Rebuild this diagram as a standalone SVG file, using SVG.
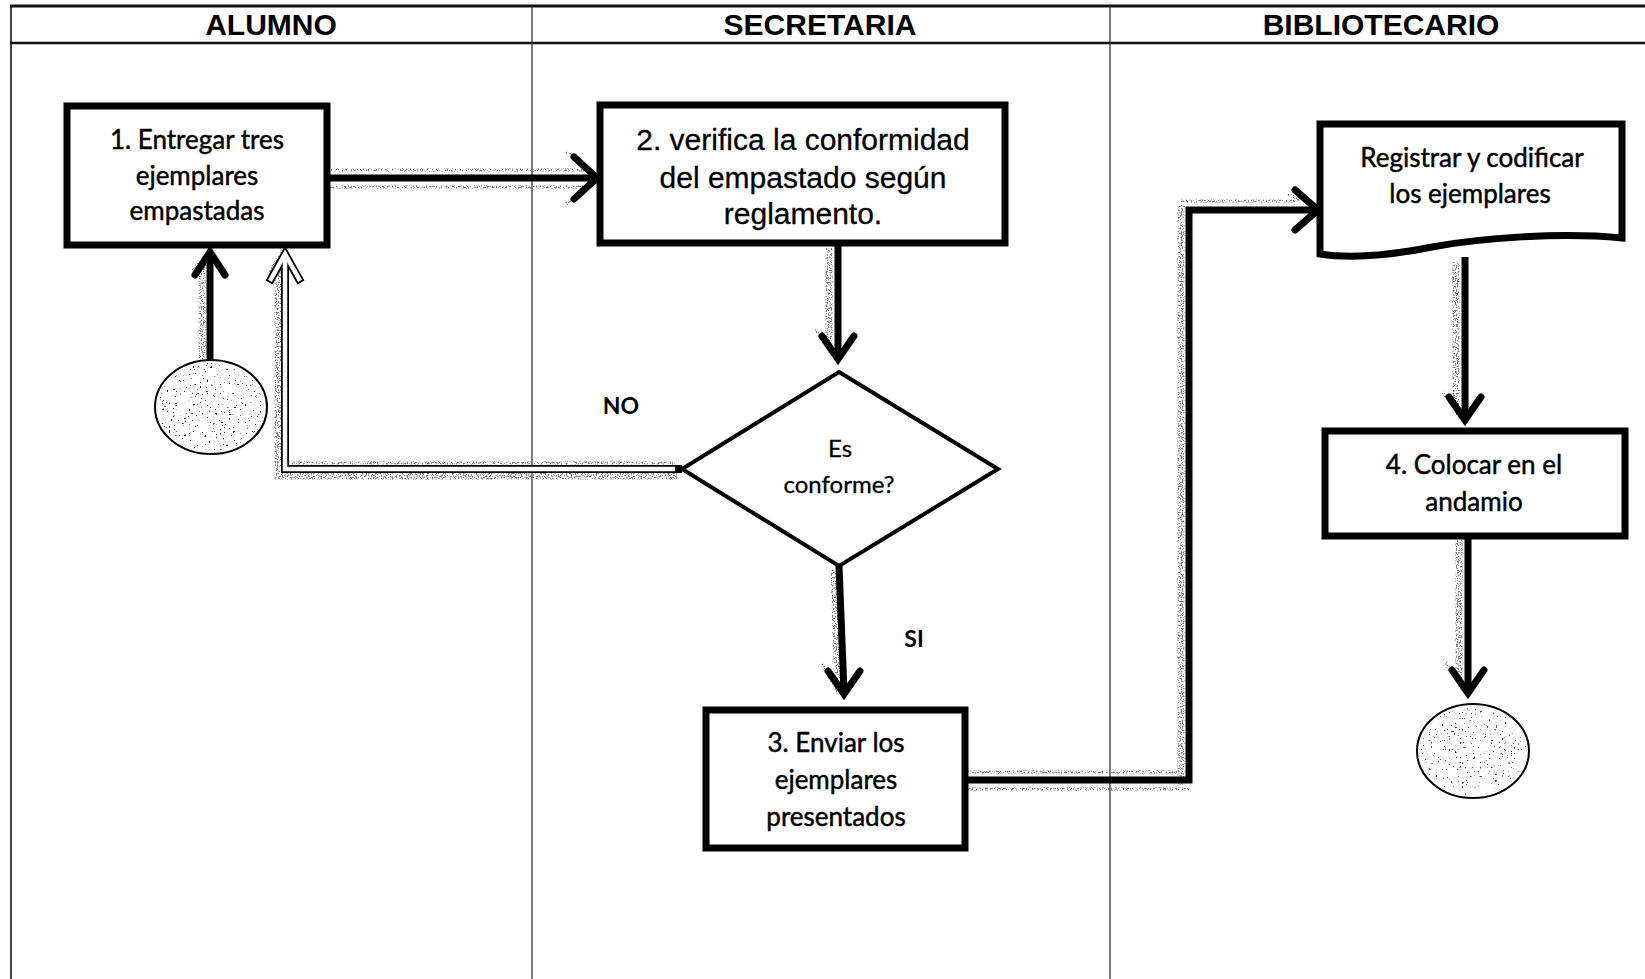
<svg xmlns="http://www.w3.org/2000/svg" width="1645" height="979" viewBox="0 0 1645 979">
  <style>
    .frame { stroke: #111; fill: none; }
    .lane { stroke: #333; stroke-width: 1.3; fill: none; }
    .hdr { font-family: "Liberation Sans", Arial, sans-serif; font-weight: bold; font-size: 30px; fill: #000; text-anchor: middle; }
    .box { fill: #fff; stroke: #000; stroke-width: 7; }
    .cal { font-family: Lato, Carlito, "Liberation Sans", sans-serif; font-size: 26px; fill: #000; stroke: #000; stroke-width: 0.45; text-anchor: middle; }
    .ari { font-family: "Liberation Sans", Arial, sans-serif; font-size: 30px; fill: #000; stroke: #000; stroke-width: 0.3; text-anchor: middle; }
    .lbl { font-family: Lato, Carlito, "Liberation Sans", sans-serif; font-weight: bold; font-size: 23px; fill: #000; text-anchor: middle; }
    .flow { fill: none; stroke: #000; stroke-width: 7; stroke-linejoin: miter; }
    .head { fill: none; stroke: #000; stroke-width: 7; stroke-linejoin: miter; stroke-linecap: round; }
    .shade { fill: none; stroke: #7a7a7a; stroke-width: 7; }
    .shade-thin { fill: none; stroke: #7a7a7a; stroke-width: 3; }
    .hollow-out { fill: none; stroke: #000; stroke-width: 8; stroke-linejoin: miter; }
    .hollow-in { fill: none; stroke: #fff; stroke-width: 4.5; stroke-linejoin: miter; }
  </style>
  <defs>
    <!-- speckled scan texture used for the arrow shadows and the terminator fills -->
    <filter id="grain" filterUnits="userSpaceOnUse" x="0" y="0" width="1645" height="979">
      <feTurbulence type="fractalNoise" baseFrequency="0.8" numOctaves="2" seed="4" result="noise"/>
      <feColorMatrix in="noise" type="matrix" values="0 0 0 0 0  0 0 0 0 0  0 0 0 0 0  0 0 0 8 -4.0" result="mask"/>
      <feComposite in="SourceGraphic" in2="mask" operator="in"/>
    </filter>
    <filter id="speck" filterUnits="userSpaceOnUse" x="0" y="0" width="1645" height="979">
      <feTurbulence type="fractalNoise" baseFrequency="0.45" numOctaves="2" seed="9" result="noise"/>
      <feColorMatrix in="noise" type="matrix" values="0 0 0 0 0  0 0 0 0 0  0 0 0 0 0  0 0 0 18 -12.4" result="mask"/>
      <feComposite in="SourceGraphic" in2="mask" operator="in"/>
    </filter>
  </defs>

  <rect width="1645" height="979" fill="#fff"/>

  <!-- swimlane frame -->
  <g id="lanes">
    <line class="frame" x1="10" y1="6" x2="1645" y2="6" stroke-width="3"/>
    <line class="frame" x1="10" y1="43" x2="1645" y2="43" stroke-width="2.5"/>
    <line class="frame" x1="11" y1="6" x2="11" y2="979" stroke-width="1.6"/>
    <line class="lane" x1="532" y1="6" x2="532" y2="979"/>
    <line class="lane" x1="1110" y1="6" x2="1110" y2="979"/>
    <text class="hdr" x="271" y="35">ALUMNO</text>
    <text class="hdr" x="820" y="35">SECRETARIA</text>
    <text class="hdr" x="1381" y="35">BIBLIOTECARIO</text>
  </g>

  <!-- connectors -->
  <g id="connectors">
    <g filter="url(#grain)">
      <line class="shade" x1="202" y1="262" x2="202" y2="360"/>
      <path class="shade-thin" d="M192,270 L207,254"/>
      <line class="shade-thin" x1="330" y1="170" x2="590" y2="170"/>
      <line class="shade-thin" x1="330" y1="187" x2="590" y2="187"/>
      <path class="shade-thin" d="M566,152 L576,158 M566,204 L576,198"/>
      <line class="shade" x1="829" y1="248" x2="829" y2="350"/>
      <path class="shade-thin" d="M815,328 L832,356"/>
      <line class="shade" x1="834" y1="570" x2="838" y2="690"/>
      <path class="shade-thin" d="M822,664 L838,692"/>
      <line class="shade-thin" x1="968" y1="772" x2="1180" y2="772"/>
      <line class="shade-thin" x1="968" y1="789" x2="1190" y2="789"/>
      <line class="shade" x1="1181" y1="205" x2="1181" y2="785"/>
      <line class="shade-thin" x1="1181" y1="201" x2="1295" y2="201"/>
      <path class="shade-thin" d="M1288,194 L1300,200"/>
      <line class="shade" x1="1456" y1="262" x2="1456" y2="410"/>
      <path class="shade-thin" d="M1443,392 L1460,418"/>
      <line class="shade" x1="1459" y1="540" x2="1459" y2="680"/>
      <path class="shade-thin" d="M1446,662 L1462,690"/>
      <path class="shade" d="M677,476 H278 V262" stroke-width="5"/>
      <path class="shade-thin" d="M677,463 H292"/>
      <path class="shade-thin" d="M268,276 L282,252"/>
    </g>

    <!-- start -> 1 -->
    <line class="flow" x1="210" y1="360" x2="210" y2="254"/>
    <path class="head" d="M195,275 L210,252 L225,275"/>
    <!-- 1 -> 2 -->
    <line class="flow" x1="327" y1="178" x2="596" y2="178"/>
    <path class="head" d="M574,157 L597,178 L574,199"/>
    <!-- 2 -> decision -->
    <line class="flow" x1="838" y1="243" x2="838" y2="357"/>
    <path class="head" d="M822,336 L838,359 L854,336"/>
    <!-- decision (SI) -> 3 -->
    <line class="flow" x1="839" y1="566" x2="844" y2="692"/>
    <path class="head" d="M828,671 L844,694 L860,671"/>
    <!-- 3 -> registrar -->
    <path class="flow" d="M965,780 H1189 V210 H1316"/>
    <path class="head" d="M1295,190 L1318,210 L1295,230"/>
    <!-- registrar -> 4 -->
    <line class="flow" x1="1465" y1="257" x2="1465" y2="418"/>
    <path class="head" d="M1449,397 L1465,420 L1481,397"/>
    <!-- 4 -> end -->
    <line class="flow" x1="1468" y1="536" x2="1468" y2="690"/>
    <path class="head" d="M1452,670 L1468,693 L1484,670"/>
    <!-- decision (NO) -> 1, hollow arrow -->
    <path class="hollow-out" d="M678,469 H285 V256" stroke-linecap="square"/>
    <path class="hollow-out" d="M271,279 L285,254 L299,279" stroke-linecap="square"/>
    <path class="hollow-in" d="M675,469 H285 V258"/>
    <path class="hollow-in" d="M271,279 L285,254 L299,279" stroke-linecap="square"/>
    <text class="lbl" x="621" y="414">NO</text>
    <text class="lbl" x="914" y="647">SI</text>
  </g>

  <!-- start terminator -->
  <g id="start">
    <ellipse cx="211" cy="407" rx="56" ry="47" fill="#fdfdfd" stroke="#000" stroke-width="2"/>
    <ellipse cx="211" cy="407" rx="53" ry="44" fill="#333" filter="url(#speck)"/>
  </g>

  <!-- 1. Entregar -->
  <g id="step1">
    <rect class="box" x="67" y="106" width="260" height="139"/>
    <text class="cal" x="197" y="149">1. Entregar tres</text>
    <text class="cal" x="197" y="185">ejemplares</text>
    <text class="cal" x="197" y="220">empastadas</text>
  </g>

  <!-- 2. verifica -->
  <g id="step2">
    <rect class="box" x="600" y="105" width="405" height="138"/>
    <text class="ari" x="803" y="150">2. verifica la conformidad</text>
    <text class="ari" x="803" y="188">del empastado según</text>
    <text class="ari" x="803" y="224">reglamento.</text>
  </g>

  <!-- decision -->
  <g id="decision">
    <polygon points="839,372 998,469 839,566 682,469" fill="#fff" stroke="#000" stroke-width="4"/>
    <text class="cal" x="840" y="457" style="font-size:24px;stroke-width:0.3">Es</text>
    <text class="cal" x="839" y="493" style="font-size:24px;stroke-width:0.3">conforme?</text>
  </g>

  <!-- 3. Enviar -->
  <g id="step3">
    <rect class="box" x="706" y="710" width="259" height="138"/>
    <text class="cal" x="836" y="752">3. Enviar los</text>
    <text class="cal" x="836" y="789">ejemplares</text>
    <text class="cal" x="836" y="826">presentados</text>
  </g>

  <!-- Registrar (document) -->
  <g id="register">
    <path d="M1320,124 H1622 V238 C1560,232 1480,238 1432,247 C1392,255 1352,259 1320,254 Z" fill="#fff" stroke="#000" stroke-width="7" stroke-linejoin="miter"/>
    <text class="cal" x="1472" y="167">Registrar y codificar</text>
    <text class="cal" x="1470" y="203">los ejemplares</text>
  </g>

  <!-- 4. Colocar -->
  <g id="step4">
    <rect class="box" x="1325" y="431" width="300" height="105"/>
    <text class="cal" x="1474" y="474">4. Colocar en el</text>
    <text class="cal" x="1474" y="511">andamio</text>
  </g>

  <!-- end terminator -->
  <g id="end">
    <ellipse cx="1473" cy="751" rx="56" ry="47" fill="#fdfdfd" stroke="#000" stroke-width="2"/>
    <ellipse cx="1473" cy="751" rx="53" ry="44" fill="#555" filter="url(#speck)"/>
  </g>
</svg>
